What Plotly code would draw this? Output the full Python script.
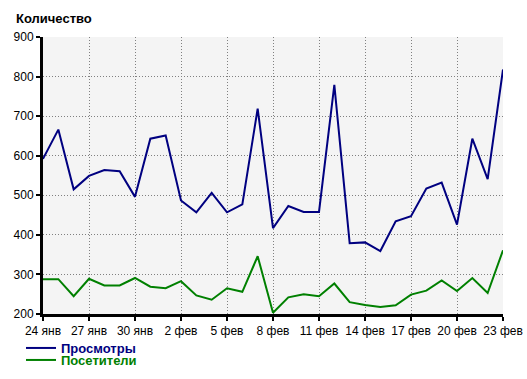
import plotly.graph_objects as go

days = ["24 янв", "25 янв", "26 янв", "27 янв", "28 янв", "29 янв", "30 янв", "31 янв",
        "1 фев", "2 фев", "3 фев", "4 фев", "5 фев", "6 фев", "7 фев", "8 фев",
        "9 фев", "10 фев", "11 фев", "12 фев", "13 фев", "14 фев", "15 фев", "16 фев",
        "17 фев", "18 фев", "19 фев", "20 фев", "21 фев", "22 фев", "23 фев"]
views = [592, 666, 515, 549, 564, 561, 496, 643, 651, 487, 457, 506, 457, 477, 719, 417,
         473, 458, 458, 779, 379, 381, 359, 434, 447, 517, 532, 426, 643, 541, 818]
visitors = [288, 288, 245, 289, 272, 272, 291, 269, 265, 283, 247, 236, 265, 256, 346, 203,
            242, 250, 245, 277, 230, 223, 218, 222, 249, 259, 285, 258, 291, 253, 361]
y_ticks = [200, 300, 400, 500, 600, 700, 800, 900]

x = list(range(len(days)))
tick_idx = x[::3]

W, H = 527, 379
ML, MR, MT, MB = 43, 24, 37, 65
PW, PH = W - ML - MR, H - MT - MB

fig = go.Figure()
fig.add_trace(go.Scatter(x=x, y=views, mode="lines", line=dict(color="#000080", width=2),
                         name="<b><span style='color:#000080'>Просмотры</span></b>",
                         legend="legend"))
fig.add_trace(go.Scatter(x=x, y=visitors, mode="lines", line=dict(color="#008000", width=2),
                         name="<b><span style='color:#008000'>Посетители</span></b>",
                         legend="legend2"))

font = dict(family="Liberation Sans, Arial, sans-serif", size=12, color="#000")
legfont = dict(family="Liberation Sans, Arial, sans-serif", size=13)
leg_x = (21 - ML) / PW
fig.update_layout(
    width=W, height=H,
    margin=dict(l=ML, r=MR, t=MT, b=MB, autoexpand=False),
    paper_bgcolor="white", plot_bgcolor="#f4f4f4",
    font=font,
    showlegend=True,
    legend=dict(x=leg_x, y=-(348 - (MT + PH)) / PH, xanchor="left", yanchor="middle",
                bgcolor="rgba(0,0,0,0)", font=legfont, itemwidth=30, borderwidth=0),
    legend2=dict(x=leg_x, y=-(360 - (MT + PH)) / PH, xanchor="left", yanchor="middle",
                 bgcolor="rgba(0,0,0,0)", font=legfont, itemwidth=30, borderwidth=0),
    xaxis=dict(range=[0, 30], tickmode="array", tickvals=tick_idx,
               ticktext=[days[i] for i in tick_idx],
               showgrid=True, gridcolor="#808080", griddash="1px,2px", gridwidth=1,
               showline=True, linecolor="black", linewidth=3,
               ticks="outside", ticklen=4, tickwidth=2, tickcolor="black",
               zeroline=False, tickfont=font, automargin=False),
    yaxis=dict(range=[200, 900], tickmode="array", tickvals=y_ticks,
               showgrid=True, gridcolor="#808080", griddash="1px,2px", gridwidth=1,
               showline=True, linecolor="black", linewidth=3,
               ticks="outside", ticklen=4, tickwidth=2, tickcolor="black",
               zeroline=False, tickfont=font, automargin=False),
    annotations=[dict(text="<b>Количество</b>", xref="paper", yref="paper",
                      x=(14 - ML) / PW, y=1 + (MT - 19) / PH, xanchor="left", yanchor="middle",
                      showarrow=False,
                      font=dict(family="Liberation Sans, Arial, sans-serif", size=13, color="#000"))],
)

fig.write_html("out.html", config={"displayModeBar": False},
               post_script="document.body.style.margin='0';document.body.style.overflow='hidden';")
